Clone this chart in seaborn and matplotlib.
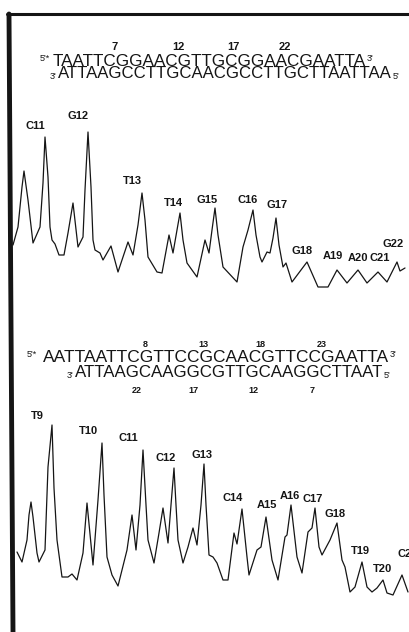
"""
Densitometer scans of two cleavage ladders with the duplex sequences above.
Recreated with seaborn line plots; the frame and sequences are figure text.
"""

import matplotlib
matplotlib.use("Agg")
import matplotlib.pyplot as plt
import seaborn as sns
from matplotlib.lines import Line2D

# 1. Data (x = migration position, y = absorbance units)
top_x = [13, 18, 22, 24, 28, 33, 40, 43, 45, 48, 50, 52, 55, 59, 64, 68, 73, 78, 83, 85,
         88, 91, 93, 95, 100, 103, 111, 118, 128, 133, 138, 142, 145, 148, 157, 162, 169,
         173, 177, 180, 183, 187, 197, 205, 209, 212, 215, 218, 223, 237, 243, 248, 253, 256,
         260, 262, 267, 270, 273, 276, 279, 283, 286, 292, 307, 318, 328, 337, 347, 358, 367,
         378, 387, 397, 400, 405]
top_y = [55, 73, 113, 129, 100, 57, 73, 117, 163, 123, 73, 60, 56, 45, 45, 67, 97, 53, 63, 110,
         168, 113, 60, 50, 47, 40, 54, 28, 58, 45, 75, 107, 80, 43, 28, 27, 65,
         47, 70, 87, 60, 37, 23, 60, 47, 70, 92, 65, 33, 18, 53, 70, 90, 65,
         43, 38, 48, 47, 62, 82, 55, 33, 37, 18, 38, 13, 13, 30, 17, 30, 17,
         28, 18, 38, 29, 32]

bottom_x = [17, 22, 27, 29, 31, 33, 37, 39, 45, 48, 52, 54, 57, 62, 68, 72, 77, 83, 87, 93,
            98, 102, 104, 107, 112, 118, 127, 132, 136, 140, 143, 146, 148, 154, 159, 163,
            168, 171, 174, 176, 178, 183, 188, 193, 197, 201, 204, 206, 209, 213, 217, 223,
            228, 234, 237, 242, 247, 249, 257, 261, 266, 272, 278, 285, 287, 291, 297, 302,
            308, 312, 315, 319, 322, 330, 337, 342, 345, 350, 355, 362, 367, 372, 377, 383,
            387, 393, 402, 408]
bottom_y = [53, 43, 65, 90, 103, 88, 52, 43, 55, 138, 180, 117, 65, 28, 28, 31, 25, 52, 102, 40,
            105, 162, 110, 48, 30, 19, 55, 90, 55, 100, 155, 100, 65, 42, 72, 97,
            62, 100, 137, 100, 65, 42, 58, 77, 60, 100, 141, 100, 50, 48, 42, 25,
            25, 72, 61, 96, 48, 30, 55, 58, 88, 45, 25, 68, 70, 100, 48, 32,
            73, 77, 97, 58, 50, 65, 82, 45, 38, 13, 18, 43, 18, 13, 17, 25,
            12, 10, 30, 13]

top_peaks = ["C11", "G12", "T13", "T14", "G15", "C16", "G17", "G18", "A19", "A20", "C21", "G22"]
bottom_peaks = ["T9", "T10", "C11", "C12", "G13", "C14", "A15", "A16", "C17", "G18", "T19", "T20", "C21"]

seq1_top = "TAATTCGGAACGTTGCGGAACGAATTA"
seq1_bot = "ATTAAGCCTTGCAACGCCTTGCTTAATTAA"
seq2_top = "AATTAATTCGTTCCGCAACGTTCCGAATTA"
seq2_bot = "ATTAAGCAAGGCGTTGCAAGGCTTAAT"
seq1_numbers = ["7", "12", "17", "22"]
seq2_numbers_top = ["8", "13", "18", "23"]
seq2_numbers_bot = ["22", "17", "12", "7"]

# label anchor positions (x, baseline) in plot units
top_label_pos = [(35, 171), (78, 181), (132, 116), (173, 94), (207, 97), (248, 97), (277, 92),
                 (302, 46), (333, 41), (358, 39), (380, 39), (393, 53)]
bottom_label_pos = [(37, 186), (88, 171), (128, 164), (166, 144), (202, 147), (233, 104),
                    (267, 97), (290, 106), (313, 103), (335, 88), (360, 51), (383, 33), (408, 48)]

# 2. Figure setup
sns.set_theme(style="white")
plt.rcParams["font.family"] = ["Liberation Sans", "DejaVu Sans"]

W, H = 410, 632
fig = plt.figure(figsize=(W / 100, H / 100), dpi=100)
fig.patch.set_facecolor("white")
INK = "#151515"
renderer = fig.canvas.get_renderer()


def fx(px):
    return px / W


def fy(py):
    return 1 - py / H


def trace_axes(top_px, bottom_px):
    ax = fig.add_axes([0, fy(bottom_px), 1, (bottom_px - top_px) / H])
    ax.set_xlim(0, W)
    ax.set_ylim(0, bottom_px - top_px)
    ax.set_axis_off()
    return ax


# 3. Traces
ax_top = trace_axes(100, 300)
sns.lineplot(x=top_x, y=top_y, ax=ax_top, color=INK, lw=0.9)
for name, (x, y) in zip(top_peaks, top_label_pos):
    ax_top.text(x, y, name, ha="center", va="baseline", fontsize=8, weight="bold", color=INK)

ax_bot = trace_axes(400, 605)
sns.lineplot(x=bottom_x, y=bottom_y, ax=ax_bot, color=INK, lw=0.9)
for name, (x, y) in zip(bottom_peaks, bottom_label_pos):
    ax_bot.text(x, y, name, ha="center", va="baseline", fontsize=8, weight="bold",
                color=INK, clip_on=False)


# 4. Sequences: small end marks sit right against the strand text
def seq_line(x, main_x, y, prefix, seq, suffix, size=12, sup=True):
    shift = 5 if sup else -1
    fig.text(fx(x), fy(y - shift), prefix, fontsize=6.5, ha="left", va="baseline", color=INK)
    t = fig.text(fx(main_x), fy(y), seq, fontsize=size, ha="left", va="baseline", color=INK)
    end_px = t.get_window_extent(renderer=renderer).x1
    fig.text(end_px / W + 0.5 / W, fy(y - shift), suffix, fontsize=6.5, ha="left",
             va="baseline", color=INK)


seq_line(40, 53, 66, "5'*", seq1_top, "3'", size=12.3, sup=True)
seq_line(50, 58, 78, "3'", seq1_bot, "5'", size=12.1, sup=False)
for num, x in zip(seq1_numbers, [115, 178, 233, 285]):
    fig.text(fx(x), fy(50), num, fontsize=8, weight="bold", ha="center", va="baseline", color=INK)

seq_line(27, 43, 362, "5'*", seq2_top, "3'", size=12.5, sup=True)
seq_line(67, 75, 377, "3'", seq2_bot, "5'", size=12.2, sup=False)
for num, x in zip(seq2_numbers_top, [145, 203, 260, 322]):
    fig.text(fx(x), fy(347), num, fontsize=6.5, weight="bold", ha="center", va="baseline", color=INK)
for num, x in zip(seq2_numbers_bot, [137, 193, 253, 312]):
    fig.text(fx(x), fy(393), num, fontsize=6.5, weight="bold", ha="center", va="baseline", color=INK)

# 5. Frame (left and top rules)
fig.add_artist(Line2D([fx(9), fx(13)], [fy(14), fy(632)], transform=fig.transFigure,
                      color=INK, lw=3.5))
fig.add_artist(Line2D([fx(7), fx(410)], [fy(14), fy(14)], transform=fig.transFigure,
                      color=INK, lw=2.2))

fig.savefig("out.png", dpi=100, facecolor="white")
plt.close(fig)
